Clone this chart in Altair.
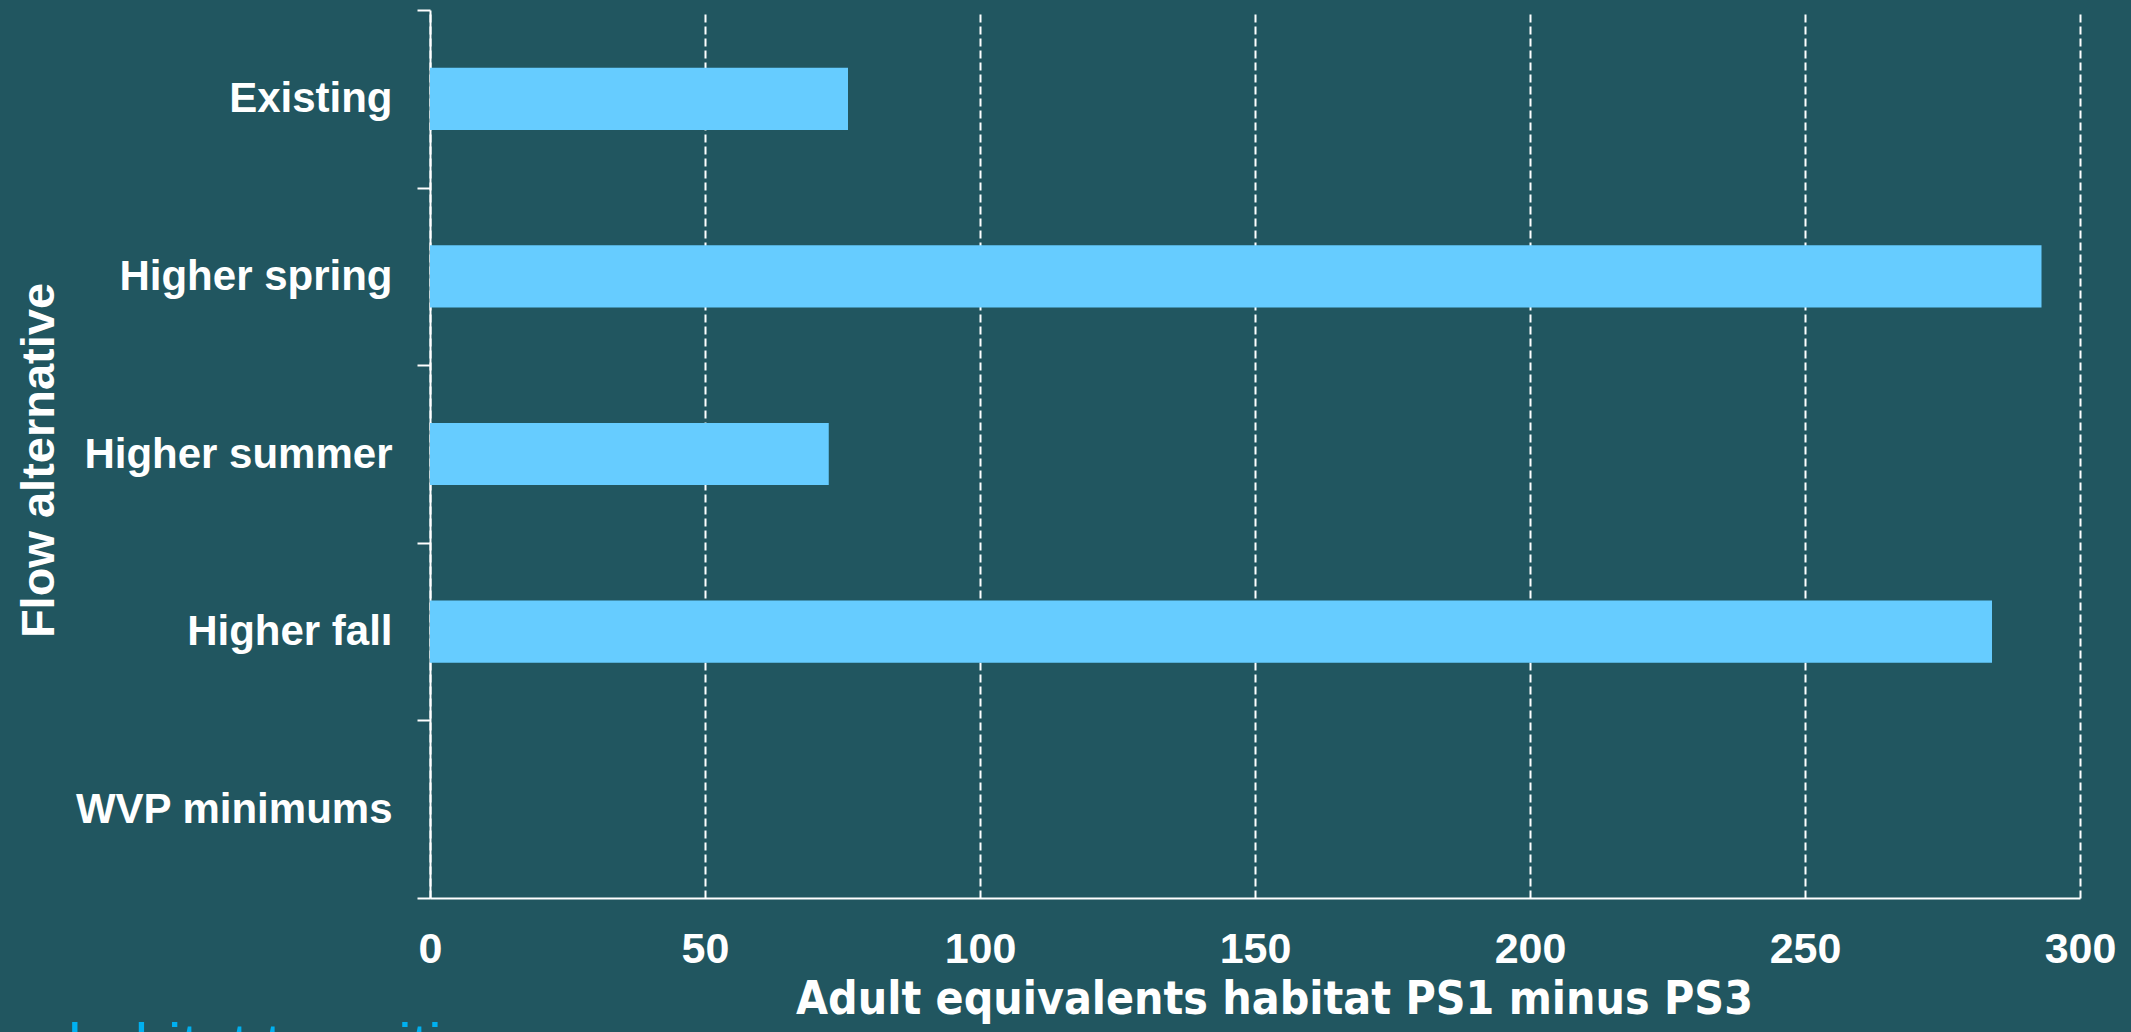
import altair as alt
import pandas as pd

categories = ["Existing", "Higher spring", "Higher summer", "Higher fall", "WVP minimums"]
values = [76, 293, 72.5, 284, 0]
x_ticks = [0, 50, 100, 150, 200, 250, 300]
x_title = "Adult equivalents habitat PS1 minus PS3"
y_title = "Flow alternative"
footer_text = ["habitat transition"]

BG = "#215660"
BAR = "#66CCFF"
BOLD = "Liberation Sans, Arial, Helvetica, sans-serif"
NARROW = "Liberation Sans Narrow, Arial Narrow, DejaVu Sans Condensed, sans-serif"

df = pd.DataFrame({"cat": categories, "val": values})

bars = alt.Chart(df).mark_bar(color=BAR, height={"band": 0.35}).encode(
    x=alt.X(
        "val:Q",
        scale=alt.Scale(domain=[0, 300], nice=False, zero=True),
        axis=alt.Axis(
            values=x_ticks,
            title=x_title,
            grid=True,
            gridColor="white",
            gridWidth=2,
            gridDash=[8, 4],
            gridOpacity=1,
            ticks=False,
            tickSize=0,
            domain=True,
            domainColor="white",
            domainWidth=2,
            labelColor="white",
            labelFont=BOLD,
            labelFontWeight="bold",
            labelFontSize=43,
            labelPadding=30,
            labelFlush=False,
            titleColor="white",
            titleFont=NARROW,
            titleFontWeight="bold",
            titleFontSize=46,
            titleX=844,
            titleY=115,
            titleAlign="center",
            titleBaseline="alphabetic",
            titleAnchor="middle",
        ),
    ),
    y=alt.Y(
        "cat:N",
        sort=categories,
        scale=alt.Scale(paddingInner=0, paddingOuter=0),
        axis=alt.Axis(
            title=y_title,
            grid=False,
            tickBand="extent",
            ticks=True,
            tickColor="white",
            tickWidth=2,
            tickSize=13,
            domain=True,
            domainColor="white",
            domainWidth=2,
            labelColor="white",
            labelFont=BOLD,
            labelFontWeight="bold",
            labelFontSize=42,
            labelPadding=25,
            labelLimit=0,
            titleColor="white",
            titleFont=BOLD,
            titleFontWeight="bold",
            titleFontSize=47,
            titleAngle=270,
            titleX=-414,
            titleY=450,
            titleAlign="center",
            titleBaseline="top",
        ),
    ),
)

footer = alt.Chart(pd.DataFrame({"t": footer_text})).mark_text(
    color="#00B0F0",
    font="Liberation Sans, Arial, sans-serif",
    fontSize=60,
    align="left",
    baseline="top",
).encode(
    text="t:N",
    x=alt.value(-362),
    y=alt.value(1008),
)

chart = (
    alt.layer(bars, footer)
    .properties(
        width=1650,
        height=888,
        background=BG,
        padding={"left": 430, "top": 10, "right": 51, "bottom": 134},
        autosize=alt.AutoSizeParams(type="none"),
    )
    .configure_view(stroke=None)
)

chart.save("out.html", embed_options={"renderer": "svg", "actions": False})
